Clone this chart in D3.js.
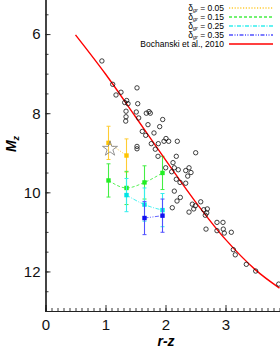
<!DOCTYPE html>
<html>
<head>
<meta charset="utf-8">
<script src="https://cdn.jsdelivr.net/npm/d3@7"></script>
<style>
  body { margin: 0; background: #fff; }
  svg { display: block; font-family: 'Liberation Sans', Arial, sans-serif; }
</style>
</head>
<body>
<div id="chart"></div>
<script>
// field stars (r-z, M_z)
var starRZ = [0.94, 1.12, 1.525, 1.175, 1.258, 1.32, 1.353, 1.375, 1.537, 1.342,
  1.513, 1.342, 1.337, 1.553, 1.68, 1.725, 1.747, 1.953, 1.708, 1.903,
  1.613, 1.808, 1.67, 2.008, 2.053, 1.975, 2.197, 1.763, 1.88, 1.525,
  1.525, 1.83, 2.503, 2.18, 1.875, 2.125, 2.003, 2.103, 2.147, 2.213,
  2.337, 2.392, 2.425, 2.37, 2.18, 2.242, 2.337, 2.147, 2.247, 2.192,
  2.113, 2.587, 2.447, 2.497, 2.47, 2.392, 2.637, 2.697, 2.687, 2.663,
  2.858, 2.958, 2.675, 2.858, 2.963, 2.98, 3.097, 3.13, 3.163, 3.347,
  3.503, 3.887]
var starMz = [6.68, 7.27, 7.36, 7.54, 7.47, 7.73, 7.68, 7.76, 7.76, 7.95,
  7.97, 8.09, 8.2, 8.12, 8.0, 7.96, 8.0, 8.16, 8.29, 8.34,
  8.46, 8.5, 8.56, 8.64, 8.71, 8.71, 8.71, 8.77, 8.77, 8.84,
  8.9, 8.91, 9.0, 9.09, 9.09, 9.25, 9.38, 9.48, 9.38, 9.43,
  9.45, 9.38, 9.5, 9.59, 9.67, 9.75, 9.77, 9.97, 10.13, 10.22,
  10.39, 10.24, 10.3, 10.34, 10.42, 10.5, 10.44, 10.42, 10.52, 10.58,
  10.76, 10.76, 10.93, 10.97, 10.93, 11.03, 11.01, 11.45, 11.58, 11.82,
  11.99, 12.32]

// Bochanski et al. 2010 relation, read at a few r-z values
var bochRZ = [0.5, 1.0, 1.5, 2.0, 2.5, 3.0, 3.5, 3.9]
var bochMz = [6.02, 7.01, 8.09, 9.18, 10.24, 11.19, 11.96, 12.42]

// delta_gr model tracks
var modelRZ = [1.05, 1.35, 1.65, 1.95]
var mz005 = [8.75, 9.07]
var mz015 = [9.7, 9.89, 9.75, 9.51]
var mz025 = [null, 10.07, 10.31, 10.45]
var mz035 = [null, null, 10.65, 10.59]
var mzErr = 0.42

// the open star
var objRZ = [1.075]
var objMz = [8.9]

var xTicks = [0, 1, 2, 3]
var yTicks = [6, 8, 10, 12]
var legendLabels = ['0.05', '0.15', '0.25', '0.35']

var width = 280
var height = 348

var xPositionScale = d3.scaleLinear().domain([0, 4]).range([45.5, 285.5])
var yPositionScale = d3.scaleLinear().domain([5, 13]).range([-5.5, 311])

var svg = d3.select('#chart')
  .append('svg')
  .attr('width', width)
  .attr('height', height)

var series = [
  { vals: mz005, color: '#ffc400', bar: '#ffcc33', dash: '1.2,1.6' },
  { vals: mz015, color: '#22ee22', bar: '#44ee44', dash: '3,2' },
  { vals: mz025, color: '#00e5e5', bar: '#33eeee', dash: '4,1.5,1,1.5' },
  { vals: mz035, color: '#1010f0', bar: '#5050ff', dash: '4,1.5,1,1.5,1,1.5' }
]

// error bars and connecting lines
series.forEach(function(s) {
  var pts = modelRZ.map(function(x, i) { return { x: x, y: s.vals[i] } })
    .filter(function(d) { return d.y != null })

  var line = d3.line()
    .x(d => xPositionScale(d.x))
    .y(d => yPositionScale(d.y))
    .curve(d3.curveMonotoneX)

  svg.append('path')
    .datum(pts)
    .attr('d', line)
    .attr('fill', 'none')
    .attr('stroke', s.bar)
    .attr('stroke-width', 0.9)
    .attr('stroke-dasharray', s.dash)

  var g = svg.append('g')
  pts.forEach(function(d) {
    var cx = xPositionScale(d.x)
    var y0 = yPositionScale(d.y - mzErr)
    var y1 = yPositionScale(d.y + mzErr)
    g.append('line').attr('x1', cx).attr('x2', cx).attr('y1', y0).attr('y2', y1)
      .attr('stroke', s.bar).attr('stroke-width', 1.1)
    g.append('line').attr('x1', cx - 2).attr('x2', cx + 2).attr('y1', y0).attr('y2', y0)
      .attr('stroke', s.bar).attr('stroke-width', 1)
    g.append('line').attr('x1', cx - 2).attr('x2', cx + 2).attr('y1', y1).attr('y2', y1)
      .attr('stroke', s.bar).attr('stroke-width', 1)
    g.append('rect')
      .attr('x', cx - 2.2).attr('y', yPositionScale(d.y) - 2.2)
      .attr('width', 4.4).attr('height', 4.4)
      .attr('fill', s.color)
  })
})

// Bochanski curve
var bochLine = d3.line()
  .x(d => xPositionScale(d[0]))
  .y(d => yPositionScale(d[1]))
  .curve(d3.curveCatmullRom)

svg.append('path')
  .datum(d3.zip(bochRZ, bochMz))
  .attr('d', bochLine)
  .attr('fill', 'none')
  .attr('stroke', '#ff0000')
  .attr('stroke-width', 1.4)

// open circles
svg.selectAll('.field')
  .data(d3.zip(starRZ, starMz))
  .enter()
  .append('circle')
  .attr('class', 'field')
  .attr('cx', d => xPositionScale(d[0]))
  .attr('cy', d => yPositionScale(d[1]))
  .attr('r', 2.2)
  .attr('fill', 'none')
  .attr('stroke', '#111')
  .attr('stroke-width', 0.8)

// the open star
svg.selectAll('.obj')
  .data(d3.zip(objRZ, objMz))
  .enter()
  .append('path')
  .attr('class', 'obj')
  .attr('d', d3.symbol().type(d3.symbolStar).size(70))
  .attr('transform', d => `translate(${xPositionScale(d[0])},${yPositionScale(d[1])})`)
  .attr('fill', 'none')
  .attr('stroke', '#888')
  .attr('stroke-width', 0.9)

// axes
var xAxis = d3.axisBottom(xPositionScale)
  .tickValues(d3.range(0, 4.01, 0.1))
  .tickSize(-3)
  .tickFormat('')
svg.append('g')
  .attr('class', 'axis x-axis')
  .attr('transform', 'translate(0,311)')
  .call(xAxis)

var xMajor = d3.axisBottom(xPositionScale)
  .tickValues(xTicks)
  .tickSize(-6)
  .tickPadding(8)
  .tickFormat(d3.format('d'))
svg.append('g')
  .attr('class', 'axis x-major')
  .attr('transform', 'translate(0,311)')
  .call(xMajor)

var yAxis = d3.axisLeft(yPositionScale)
  .tickValues(d3.range(5, 13.01, 0.5))
  .tickSize(-3)
  .tickFormat('')
svg.append('g')
  .attr('class', 'axis y-axis')
  .attr('transform', 'translate(45.5,0)')
  .call(yAxis)

var yMajor = d3.axisLeft(yPositionScale)
  .tickValues(yTicks)
  .tickSize(-5)
  .tickPadding(5)
  .tickFormat(d3.format('d'))
svg.append('g')
  .attr('class', 'axis y-major')
  .attr('transform', 'translate(45.5,0)')
  .call(yMajor)

svg.selectAll('.axis path.domain').attr('stroke', '#222').attr('stroke-width', 1.2)
svg.selectAll('.axis line').attr('stroke', '#222').attr('stroke-width', 0.9)
svg.selectAll('.axis text')
  .attr('font-size', 15)
  .attr('font-family', "'Liberation Sans', Arial, sans-serif")
  .attr('fill', '#111')

// axis titles
svg.append('text')
  .attr('x', 166)
  .attr('y', 346)
  .attr('text-anchor', 'middle')
  .attr('font-size', 14)
  .attr('font-weight', 'bold')
  .attr('font-style', 'italic')
  .text('r-z')

var yTitle = svg.append('text')
  .attr('transform', 'translate(16,144) rotate(-90)')
  .attr('text-anchor', 'middle')
  .attr('font-size', 14)
  .attr('font-weight', 'bold')
  .attr('font-style', 'italic')
yTitle.append('tspan').text('M')
yTitle.append('tspan').attr('font-size', 9).attr('dy', 3).text('z')

// legend
var legend = svg.append('g').attr('font-size', 8.5)
var legendRows = legendLabels.map(function(l, i) {
  return { label: l, s: series[i] }
})
legendRows.forEach(function(d, i) {
  var y = 8 + i * 9
  var t = legend.append('text')
    .attr('x', 224)
    .attr('y', y + 2.5)
    .attr('text-anchor', 'end')
  t.append('tspan').text('\u03b4')
  t.append('tspan').attr('font-size', 5.5).attr('font-style', 'italic').attr('dy', 1.5).text('gr')
  t.append('tspan').attr('dy', -1.5).text(' = ' + d.label)
  legend.append('line')
    .attr('x1', 229).attr('x2', 273)
    .attr('y1', y).attr('y2', y)
    .attr('stroke', d.s.bar)
    .attr('stroke-width', 1.3)
    .attr('stroke-dasharray', d.s.dash)
})
legend.append('text')
  .attr('x', 224)
  .attr('y', 46.5)
  .attr('text-anchor', 'end')
  .text('Bochanski et al., 2010')
legend.append('line')
  .attr('x1', 229).attr('x2', 273)
  .attr('y1', 44).attr('y2', 44)
  .attr('stroke', '#ff0000')
  .attr('stroke-width', 1.5)
</script>
</body>
</html>
